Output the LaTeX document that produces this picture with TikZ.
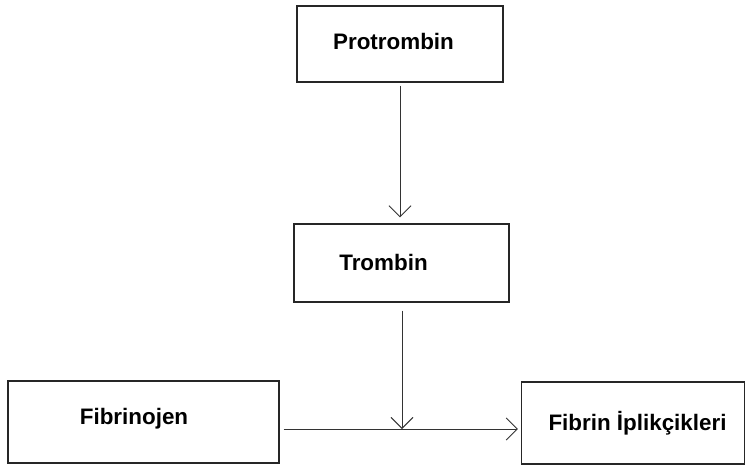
\documentclass[tikz,border=0pt]{standalone}
\usepackage{fontspec}
\setmainfont{Liberation Sans}
\usetikzlibrary{arrows.meta}
\begin{document}
\begin{tikzpicture}[x=1pt,y=-1pt,
  box/.style={draw=black!85,line width=1.3pt,rectangle,inner sep=0pt},
  lbl/.style={font=\bfseries\fontsize{22.4}{26}\selectfont,text=black,inner sep=0pt,anchor=center},
  arr/.style={draw=black!80,line width=0.9pt,-{Straight Barb[length=11pt,width=22pt,line width=0.9pt]}}]
\useasboundingbox (0,0) rectangle (746,466);
\node[box,minimum width=206pt,minimum height=76pt] (p) at (400,44) {};
\node[lbl] (pt) at (393.5,41) {Protrombin};
\node[box,minimum width=215pt,minimum height=78pt] (t) at (401.5,263) {};
\node[lbl] (tt) at (383.5,262) {Trombin};
\node[box,minimum width=271pt,minimum height=82pt] (f) at (143.5,422) {};
\node[lbl] (ft) at (134,419) {Fibrinojen};
\node[box,minimum width=223pt,minimum height=82pt] (fi) at (633,423) {};
\node[lbl] (fit) at (637.5,423) {Fibrin İplikçikleri};
\coordinate (j) at (402,429);
\draw[arr] ([yshift=-3pt]p.south) -- ([yshift=6pt]p.south |- t.north);
\draw[arr] ([yshift=-8pt]t.south -| j) -- (j);
\draw[arr] ([xshift=4pt]f.east |- j) -- ([xshift=-3pt]fi.west |- j);
\end{tikzpicture}
\end{document}
